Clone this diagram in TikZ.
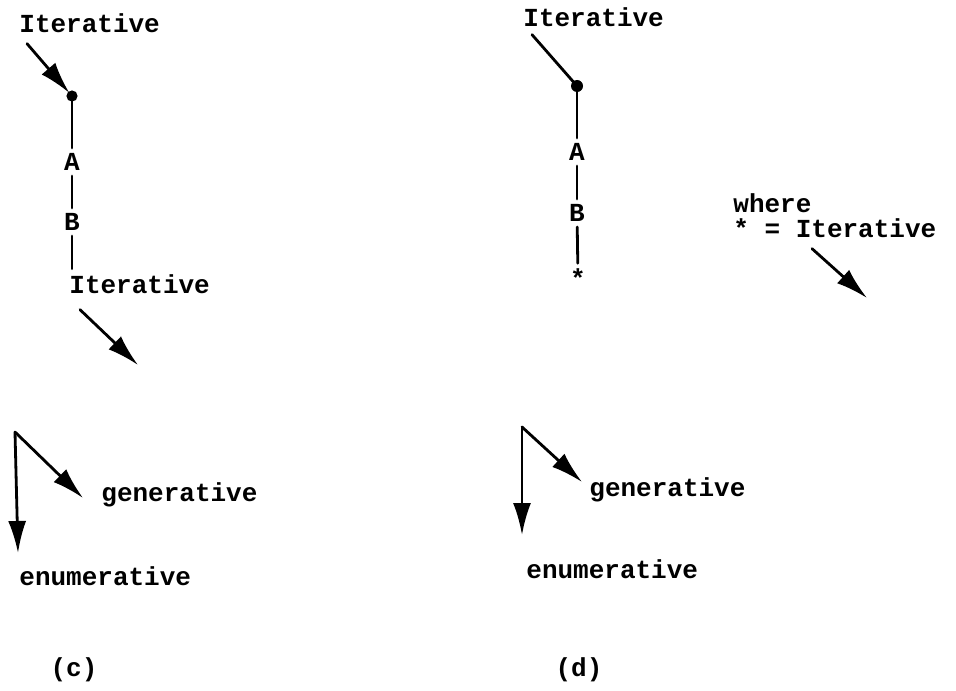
\documentclass[tikz,border=0pt]{standalone}
\usepackage{fontspec}
\setmainfont{Liberation Mono}
\usetikzlibrary{arrows.meta,calc}
\begin{document}
\begin{tikzpicture}[x=0.5pt,y=-0.5pt,line cap=round,line join=round,line width=1.4pt,
		>={Latex[length=16pt,width=9pt]},
		every node/.style={font=\fontsize{13pt}{15pt}\selectfont\bfseries,inner sep=0pt},
		lbl/.style={anchor=base west},
		letter/.style={inner sep=2pt}]
	\useasboundingbox (0,0) rectangle (956,690);
	% (c)
	\node[lbl] (itc) at (18,33) {Iterative};
	\coordinate (dotc) at (72,96);
	\fill (dotc) circle (2.8pt);
	\draw[->,shorten >=2pt] ($(itc.south west)+(9,9)$) -- (dotc);
	\node[letter] (Ac) at (72,162) {A};
	\node[letter] (Bc) at (72,222) {B};
	\node[lbl] (itc2) at (68,293) {Iterative};
	\draw (dotc) -- (Ac);
	\draw (Ac) -- (Bc);
	\draw[shorten >=2pt] (Bc) -- (Bc |- itc2.north);
	\coordinate (endc) at (138,365);
	\draw[->] ($(itc2.south west)+(12,15)$) -- (endc);
	\coordinate (rootc) at (15,432);
	\coordinate (enc) at (18,553);
	\coordinate (genc) at (83,498);
	\draw[->] (rootc) -- (enc);
	\draw[->] (rootc) -- (genc);
	\node[lbl] (gc) at (100,501) {generative};
	\node[lbl] (ec) at (18,585) {enumerative};
	\node (capc) at (74,670) {(c)};
	% (d)
	\node[lbl] (itd) at (522,27) {Iterative};
	\coordinate (dotd) at (577,86);
	\fill (dotd) circle (3pt);
	\draw ($(itd.south west)+(10,6)$) -- (dotd);
	\node[letter] (Ad) at (577,152) {A};
	\node[letter] (Bd) at (577,213) {B};
	\node[letter] (star) at (578,278) {*};
	\draw (dotd) -- (Ad);
	\draw (Ad) -- (Bd);
	\draw (Bd) -- (star);
	\node[lbl] (where) at (732,212) {where};
	\node[lbl] (defd) at (732,237) {* = Iterative};
	\coordinate (endd) at (867,298);
	\draw[->] ($(defd.south west)+(80,10)$) -- (endd);
	\coordinate (rootd) at (522,427);
	\coordinate (end) at (522,535);
	\coordinate (gend) at (582,482);
	\draw[->] (rootd) -- (end);
	\draw[->] (rootd) -- (gend);
	\node[lbl] (gd) at (588,496) {generative};
	\node[lbl] (ed) at (525,578) {enumerative};
	\node (capd) at (579,670) {(d)};
\end{tikzpicture}
\end{document}
